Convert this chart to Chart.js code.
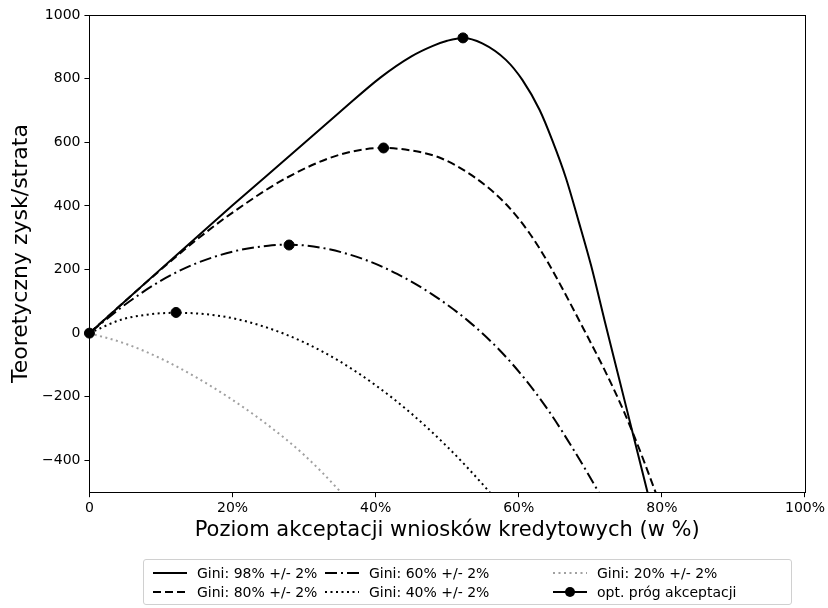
<!DOCTYPE html>
<html>
<head>
<meta charset="utf-8">
<script src="https://cdn.jsdelivr.net/npm/chart.js@4/dist/chart.umd.min.js"></script>
<style>
  body { margin: 0; background: #fff; font-family: 'DejaVu Sans', sans-serif; }
  #wrap { position: relative; width: 828px; height: 608px; }
  #legend {
    position: absolute; left: 143px; top: 559px; width: 649px; height: 46px;
    border: 1px solid #d0d0d0; border-radius: 3px; box-sizing: border-box;
  }
  .item { position: absolute; display: flex; align-items: center; font-size: 14px; color: #000; white-space: nowrap; }
  .item svg { margin-right: 10px; }
</style>
</head>
<body>
<div id="wrap">
  <canvas id="chart" width="828" height="608"></canvas>
  <div id="legend"></div>
</div>
<script>
// acceptance level (%) and theoretical profit/loss
const gini98 = [[0,0],[10,202],[20,402],[27.7,552],[35,695],[40.7,804],[45,870],[48,903],[50,919],[52.2,928],[54.9,911],[58.2,859],[60.5,796],[62.9,702],[64.7,605],[66.6,487],[68.4,349],[70.1,213],[72,39],[74,-141],[76,-321],[78,-501],[78.4,-537]];
const gini80 = [[0,0],[5,101],[10,200],[15,294],[20,379],[27.7,490],[35,561],[41.1,582],[45,574],[48.9,552],[53.5,495],[58.2,406],[61.5,314],[64,225],[68.6,33],[73.3,-177],[76.1,-322],[79.1,-499],[79.5,-523]];
const gini60 = [[0,0],[5,90],[10,165],[15,220],[20,256],[25,275],[27.9,278],[33,266],[38.6,230],[43,186],[47.9,122],[53,37],[57.3,-53],[61,-148],[64.2,-245],[67.7,-368],[71.2,-502],[71.8,-527]];
const gini40 = [[0,0],[4.4,42],[8,58],[12.1,64],[16,60],[20,47],[25,16],[30,-29],[35,-89],[40,-164],[45,-253],[50,-357],[53,-427],[55.9,-499],[56.6,-517]];
const gini20 = [[0,0],[5,-33],[10,-80],[15,-140],[20,-210],[25,-290],[30,-383],[35,-497],[35.6,-513]];
const optPoints = [[0,0],[12.1,65],[27.9,277],[41.1,582],[52.2,928]];

const seriesNames = ['Gini: 98% +/- 2%', 'Gini: 80% +/- 2%', 'Gini: 60% +/- 2%', 'Gini: 40% +/- 2%', 'Gini: 20% +/- 2%'];
const optName = 'opt. próg akceptacji';

const xTicks = [0, 20, 40, 60, 80, 100];
const xTickLabels = ['0', '20%', '40%', '60%', '80%', '100%'];
const yTicks = [-400, -200, 0, 200, 400, 600, 800, 1000];

const styles = [
  { color: '#000', dash: [] },
  { color: '#000', dash: [8, 4] },
  { color: '#000', dash: [12, 4, 2, 4] },
  { color: '#000', dash: [2, 3.5] },
  { color: '#a0a0a0', dash: [2, 3.5] }
];

const toXY = arr => arr.map(p => ({ x: p[0], y: p[1] }));
const allSeries = [gini98, gini80, gini60, gini40, gini20];

const datasets = allSeries.map((s, i) => ({
  label: seriesNames[i],
  data: toXY(s),
  borderColor: styles[i].color,
  borderDash: styles[i].dash,
  borderWidth: 2,
  pointRadius: 0,
  cubicInterpolationMode: 'monotone',
  fill: false,
  order: i + 1
}));
datasets.push({
  label: optName,
  data: toXY(optPoints),
  showLine: false,
  pointRadius: 5,
  pointBackgroundColor: '#000',
  pointBorderColor: '#000',
  clip: false,
  order: 0
});

const frame = {
  id: 'frame',
  afterDatasetsDraw(chart) {
    const a = chart.chartArea, ctx = chart.ctx;
    ctx.save();
    ctx.strokeStyle = '#000';
    ctx.lineWidth = 1;
    ctx.strokeRect(Math.round(a.left) + 0.5, Math.round(a.top) + 0.5, Math.round(a.right - a.left), Math.round(a.bottom - a.top));
    ctx.restore();
  }
};

const minus = v => String(v).replace('-', '\u2212');

new Chart(document.getElementById('chart'), {
  type: 'line',
  data: { datasets: datasets },
  plugins: [frame],
  options: {
    responsive: false,
    animation: false,
    layout: { padding: { left: 10, right: 22, top: 15, bottom: 67 } },
    plugins: { legend: { display: false }, tooltip: { enabled: false } },
    scales: {
      x: {
        type: 'linear', min: 0, max: 100,
        afterBuildTicks: s => { s.ticks = xTicks.map(v => ({ value: v })); },
        ticks: {
          color: '#000', font: { family: 'DejaVu Sans', size: 14 }, padding: 3, maxRotation: 0,
          callback: v => xTickLabels[xTicks.indexOf(v)]
        },
        grid: { drawOnChartArea: false, drawTicks: true, tickLength: 5, color: '#000' },
        border: { display: true, color: '#000' },
        title: {
          display: true, text: 'Poziom akceptacji wniosków kredytowych (w %)',
          color: '#000', font: { family: 'DejaVu Sans', size: 21, lineHeight: 1 }, padding: { top: 0, bottom: 0 }
        }
      },
      y: {
        type: 'linear', min: -500, max: 1000,
        afterBuildTicks: s => { s.ticks = yTicks.map(v => ({ value: v })); },
        ticks: {
          color: '#000', font: { family: 'DejaVu Sans', size: 14 }, padding: 4,
          callback: v => minus(v)
        },
        grid: { drawOnChartArea: false, drawTicks: true, tickLength: 5, color: '#000' },
        border: { display: true, color: '#000' },
        title: {
          display: true, text: 'Teoretyczny zysk/strata',
          color: '#000', font: { family: 'DejaVu Sans', size: 22, lineHeight: 1 }, padding: { top: 0, bottom: 6 }
        }
      }
    }
  }
});

// legend below the plot, three columns
const legendItems = [
  { name: seriesNames[0], style: styles[0], col: 0, row: 0 },
  { name: seriesNames[1], style: styles[1], col: 0, row: 1 },
  { name: seriesNames[2], style: styles[2], col: 1, row: 0 },
  { name: seriesNames[3], style: styles[3], col: 1, row: 1 },
  { name: seriesNames[4], style: styles[4], col: 2, row: 0 },
  { name: optName, style: { color: '#000', dash: [] }, col: 2, row: 1, marker: true }
];
const colLeft = [9, 181, 409];
const rowTop = [5, 24];
const legend = document.getElementById('legend');
legendItems.forEach(it => {
  const d = document.createElement('div');
  d.className = 'item';
  d.style.left = colLeft[it.col] + 'px';
  d.style.top = rowTop[it.row] + 'px';
  d.style.height = '16px';
  const dash = it.style.dash.length ? ` stroke-dasharray="${it.style.dash.join(' ')}"` : '';
  const dot = it.marker ? '<circle cx="17" cy="5" r="5" fill="#000"/>' : '';
  d.innerHTML = `<svg width="34" height="10"><line x1="0" y1="5" x2="34" y2="5" stroke="${it.style.color}" stroke-width="2"${dash}/>${dot}</svg><span>${it.name}</span>`;
  legend.appendChild(d);
});
</script>
</body>
</html>
